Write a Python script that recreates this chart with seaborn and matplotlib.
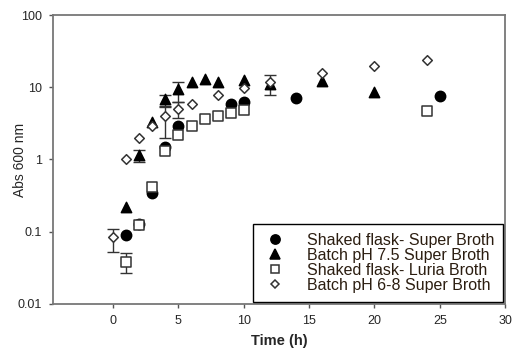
import numpy as np
import pandas as pd
import matplotlib
matplotlib.use("Agg")
import matplotlib.pyplot as plt
import seaborn as sns

# --- DATA ---
sb_flask_t = [1, 2, 3, 4, 5, 9, 10, 14, 25]
sb_flask_od = [0.09, 0.13, 0.34, 1.5, 2.9, 5.9, 6.3, 7.1, 7.6]

batch75_t = [1, 2, 3, 4, 5, 6, 7, 8, 10, 12, 16, 20]
batch75_od = [0.22, 1.15, 3.3, 6.9, 9.5, 11.7, 12.9, 11.7, 12.5, 11.0, 12.1, 8.6]

lb_flask_t = [1, 2, 3, 4, 5, 6, 7, 8, 9, 10, 24]
lb_flask_od = [0.038, 0.124, 0.42, 1.3, 2.2, 2.9, 3.6, 4.0, 4.4, 4.9, 4.7]

batch68_t = [0, 1, 2, 3, 4, 5, 6, 8, 10, 12, 16, 20, 24]
batch68_od = [0.085, 1.0, 2.0, 2.9, 4.0, 5.0, 5.9, 7.8, 9.8, 11.7, 16.0, 20.0, 24.0]

# error bars: time, value, lower end, upper end
err_t = [0, 1, 2, 4, 5, 4, 5, 12]
err_val = [0.085, 0.038, 1.15, 6.9, 9.5, 4.0, 5.0, 11.0]
err_low = [0.053, 0.027, 0.92, 5.3, 6.2, 2.0, 3.7, 7.8]
err_high = [0.11, 0.05, 1.35, 7.9, 11.7, 5.5, 6.2, 14.7]

labels = ["Shaked flask- Super Broth", "Batch pH 7.5 Super Broth",
          "Shaked flask- Luria Broth", "Batch pH 6-8 Super Broth"]

sns.set_style("ticks")
plt.rcParams["font.family"] = ["Liberation Sans", "DejaVu Sans"]

fig = plt.figure(figsize=(5.17, 3.49), dpi=100)
ax = fig.add_axes([0.1025, 0.129, 0.8745, 0.828])

# error bars first so markers sit on top
yerr = [np.array(err_val) - np.array(err_low), np.array(err_high) - np.array(err_val)]
ax.errorbar(err_t, err_val, yerr=yerr, fmt="none", ecolor="#333333",
            elinewidth=1.0, capsize=4, capthick=1.0, zorder=1)

series = [
    (sb_flask_t, sb_flask_od, "o", "black", "black", 55),
    (batch75_t, batch75_od, "^", "black", "black", 55),
    (lb_flask_t, lb_flask_od, "s", "white", "#333333", 44),
    (batch68_t, batch68_od, "D", "white", "#333333", 24),
]
handles = []
for (t, od, mk, fc, ec, s), lab in zip(series, labels):
    df = pd.DataFrame({"time": t, "od": od})
    sns.scatterplot(data=df, x="time", y="od", marker=mk, s=s, color=fc,
                    edgecolor=ec, linewidth=1.1, ax=ax, zorder=3, legend=False)
    handles.append(plt.Line2D([], [], ls="none", marker=mk, markerfacecolor=fc,
                              markeredgecolor=ec, markeredgewidth=1.1,
                              markersize=np.sqrt(s) * 0.9, label=lab))

ax.set_yscale("log")
ax.set_ylim(0.01, 100)
ax.set_xlim(-4.6, 30)
ax.set_xticks([0, 5, 10, 15, 20, 25, 30])
ax.set_yticks([0.01, 0.1, 1, 10, 100])
ax.set_yticklabels(["0.01", "0.1", "1", "10", "100"])
ax.minorticks_off()
ax.tick_params(axis="both", labelsize=9, length=3, width=1, color="#555555",
               direction="out", pad=5)

for sp in ax.spines.values():
    sp.set_color("#777777")
    sp.set_linewidth(1.3)

ax.set_xlabel("Time (h)", fontsize=10.5, fontweight="bold")
ax.xaxis.set_label_coords(0.5, -0.105)
ax.set_ylabel("Abs 600 nm", fontsize=10)
ax.yaxis.set_label_coords(-0.058, 0.5)

leg = ax.legend(handles=handles, loc="lower right", fontsize=11.5, frameon=True,
                fancybox=False, edgecolor="black", framealpha=1,
                borderaxespad=0.15, handletextpad=1.2, labelspacing=0.0,
                borderpad=0.55, handlelength=1.6)
leg.get_frame().set_linewidth(1.0)
for txt in leg.get_texts():
    txt.set_color("#2b1d10")

plt.savefig("out.png", dpi=100)
